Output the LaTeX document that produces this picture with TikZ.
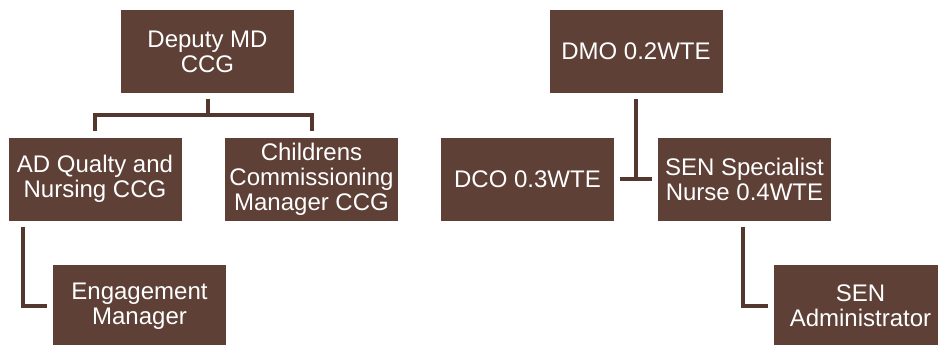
\documentclass[tikz,border=0pt]{standalone}
\usepackage{fontspec}
\setmainfont{Liberation Sans}
\usetikzlibrary{calc}
\definecolor{brownbox}{RGB}{94,64,55}
\definecolor{brownline}{RGB}{84,56,48}
\tikzset{
    post/.style = {fill=brownbox, text=white, inner sep=0pt, align=center,
        minimum width=173pt, minimum height=83pt,
        font=\fontsize{24}{25}\selectfont},
    link/.style = {draw=brownline, line width=4pt},
}
\begin{document}
\begin{tikzpicture}[x=1pt,y=-1pt]
\useasboundingbox (0,0) rectangle (938,345);

\node[post] (dep) at (207.5,51.5) {Deputy MD\\CCG};
\node[post] (ad) at (95,179) {AD Qualty and\\Nursing CCG};
\node[post] (ch) at (311.5,179) {Childrens\\Commissioning\\Manager CCG};
\node[post] (eng) at (139.5,306) {Engagement\\Manager};

\draw[link] ([yshift=-6pt]dep.south) -- ([yshift=-22pt]dep.south);
\draw[link] ([yshift=6pt]ad.north) |- ([yshift=-22pt]dep.south) -| ([yshift=6pt]ch.north);
\draw[link] ([xshift=15pt,yshift=-6pt]ad.south west) |- ([xshift=-6pt]eng.west);

\node[post] (dmo) at (636,51.5) {DMO 0.2WTE};
\node[post] (dco) at (527.5,179) {DCO 0.3WTE};
\node[post] (spn) at (744.5,179) {SEN Specialist\\Nurse 0.4WTE};
\node[post] (adm) at (860.5,306) {SEN\\Administrator};

\draw[link] ([yshift=-6pt]dmo.south) -- (dmo.south |- dco.east);
\draw[link] ([xshift=6pt]dco.east) -- ([xshift=-6pt]spn.west);
\draw[link] ([xshift=-1.5pt,yshift=-6pt]spn.south) |- ([xshift=-6pt]adm.west);
\end{tikzpicture}
\end{document}
